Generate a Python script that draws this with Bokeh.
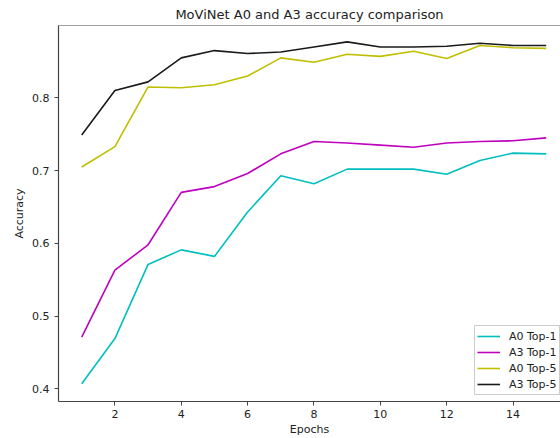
from bokeh.plotting import figure
from bokeh.embed import file_html
from bokeh.resources import INLINE
from bokeh.models import Range1d, FixedTicker, Legend, LegendItem, Span

epochs = list(range(1, 16))
a0_top1 = [0.407, 0.469, 0.571, 0.591, 0.582, 0.643, 0.693, 0.682, 0.702, 0.702, 0.702, 0.695, 0.714, 0.724, 0.723]
a3_top1 = [0.471, 0.563, 0.598, 0.670, 0.678, 0.696, 0.723, 0.740, 0.738, 0.735, 0.732, 0.738, 0.740, 0.741, 0.745]
a0_top5 = [0.705, 0.733, 0.815, 0.814, 0.818, 0.830, 0.855, 0.849, 0.860, 0.857, 0.864, 0.854, 0.872, 0.869, 0.868]
a3_top5 = [0.749, 0.810, 0.822, 0.855, 0.865, 0.861, 0.863, 0.870, 0.877, 0.870, 0.870, 0.871, 0.875, 0.872, 0.872]
x_ticks = [2, 4, 6, 8, 10, 12, 14]
y_ticks = [0.4, 0.5, 0.6, 0.7, 0.8]

FONT = "DejaVu Sans"

p = figure(width=560, height=438, output_backend="svg", toolbar_location=None,
           x_range=Range1d(0.3, 15.43), y_range=Range1d(0.3825, 0.8995),
           title="MoViNet A0 and A3 accuracy comparison",
           min_border_left=58, min_border_right=0, min_border_top=10, min_border_bottom=10)
p.title.align = "center"
p.title.text_font = FONT
p.title.text_font_size = "13px"
p.title.text_font_style = "normal"
p.title.text_color = "#222222"
p.title.standoff = 2
p.title.offset = 4
p.title.padding = 3

p.outline_line_color = None
p.grid.visible = False
p.background_fill_color = "white"
p.border_fill_color = "white"

for ax in (p.xaxis[0], p.yaxis[0]):
    ax.axis_line_color = "#444444"
    ax.axis_line_width = 1.2
    ax.major_tick_line_color = "#444444"
    ax.major_tick_out = 4
    ax.major_tick_in = 0
    ax.minor_tick_line_color = None
    ax.major_label_text_font = FONT
    ax.major_label_text_font_size = "11px"
    ax.major_label_text_color = "#222222"
    ax.axis_label_text_font = FONT
    ax.axis_label_text_font_size = "11px"
    ax.axis_label_text_font_style = "normal"
    ax.axis_label_text_color = "#222222"

p.xaxis.ticker = FixedTicker(ticks=x_ticks)
p.yaxis.ticker = FixedTicker(ticks=y_ticks)
p.xaxis.axis_label = "Epochs"
p.yaxis.axis_label = "Accuracy"
p.xaxis.major_label_standoff = 4
p.xaxis.axis_label_standoff = 2
p.yaxis.major_label_standoff = 5
p.yaxis.axis_label_standoff = 3

top_spine = Span(location=0.8995, dimension="width", line_color="#444444", line_width=1.2)
p.add_layout(top_spine)

series = [("A0 Top-1", a0_top1, "#00bfbf"),
          ("A3 Top-1", a3_top1, "#bf00bf"),
          ("A0 Top-5", a0_top5, "#bfbf00"),
          ("A3 Top-5", a3_top5, "#1a1a1a")]
items = []
for name, ys, col in series:
    r = p.line(epochs, ys, line_color=col, line_width=1.6)
    items.append(LegendItem(label=name, renderers=[r]))

legend = Legend(items=items, location=(416, 6))
legend.label_text_font = FONT
legend.label_text_font_size = "11px"
legend.label_text_color = "#222222"
legend.glyph_width = 23
legend.glyph_height = 16
legend.label_height = 16
legend.spacing = 0
legend.padding = 2
legend.margin = 0
legend.label_standoff = 9
legend.border_line_color = "#cccccc"
legend.border_line_alpha = 1.0
legend.background_fill_alpha = 0.9
p.add_layout(legend)

open("out.html", "w").write(file_html(p, INLINE))
